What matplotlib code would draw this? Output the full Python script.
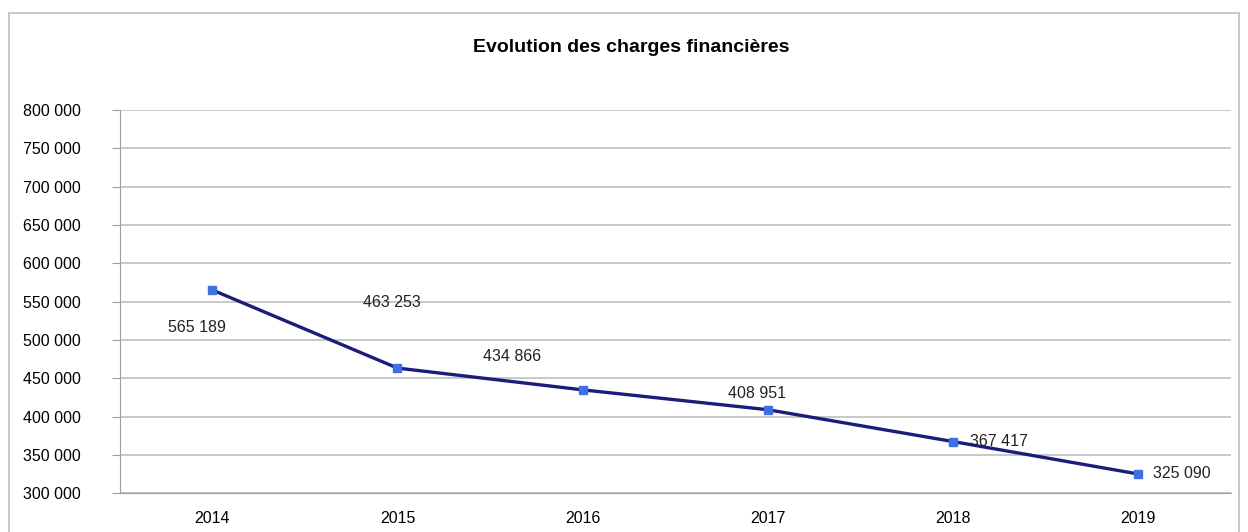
import matplotlib.pyplot as plt
import matplotlib.ticker as ticker
import numpy as np

plt.rcParams['font.family'] = ['Liberation Sans', 'DejaVu Sans']

years  = ['2014', '2015', '2016', '2017', '2018', '2019']
values = [565189, 463253, 434866, 408951, 367417, 325090]

# label offsets in points (dx, dy) and alignment
offsets = [(-11, -27, 'center'), (-4, 47, 'center'), (-51, 24, 'center'),
           (-8, 12, 'center'), (12, 0, 'left'), (11, 0, 'left')]

def fmt(v, pos=None):
    return '{:,}'.format(int(v)).replace(',', ' ')

fig = plt.figure(figsize=(12.48, 5.32), dpi=100)
fig.patch.set_facecolor('white')

# outer frame of the chart
frame = plt.Rectangle((0.007, -0.02), 0.986, 0.995, transform=fig.transFigure,
                      fill=False, edgecolor='#bdbdbd', linewidth=1.2)
fig.add_artist(frame)

ax = fig.add_axes([0.096, 0.073, 0.89, 0.72])
x = np.arange(len(years))

ax.plot(x, values, color='#1c1c7a', linewidth=2.4, zorder=3)
ax.plot(x, values, linestyle='none', marker='s', markersize=6,
        color='#3f6fe0', zorder=4)

for xx, v, (dx, dy, ha) in zip(x, values, offsets):
    ax.annotate(fmt(v), (xx, v), xytext=(dx, dy), textcoords='offset points',
                ha=ha, va='center', fontsize=11.5, color='#222222')

ax.set_xlim(-0.5, len(years) - 0.5)
ax.set_ylim(300000, 800000)
ax.set_yticks(np.arange(300000, 800001, 50000))
ax.yaxis.set_major_formatter(ticker.FuncFormatter(fmt))
ax.set_xticks(x)
ax.set_xticklabels(years)

ax.grid(axis='y', color='#bfbfbf', linewidth=1.2)
ax.set_axisbelow(True)
for s in ['top', 'right']:
    ax.spines[s].set_visible(False)
ax.spines['left'].set_color('#9e9e9e')
ax.spines['bottom'].set_color('#9e9e9e')
ax.tick_params(axis='y', length=6, color='#9e9e9e', labelsize=11.5, pad=22)
ax.tick_params(axis='x', length=0, labelsize=11.5, pad=13)
for lbl in ax.get_yticklabels():
    lbl.set_horizontalalignment('right')

fig.text(0.506, 0.91, 'Evolution des charges financières', ha='center',
         va='center', fontsize=14, fontweight='bold')

fig.savefig('out.png', dpi=100)
